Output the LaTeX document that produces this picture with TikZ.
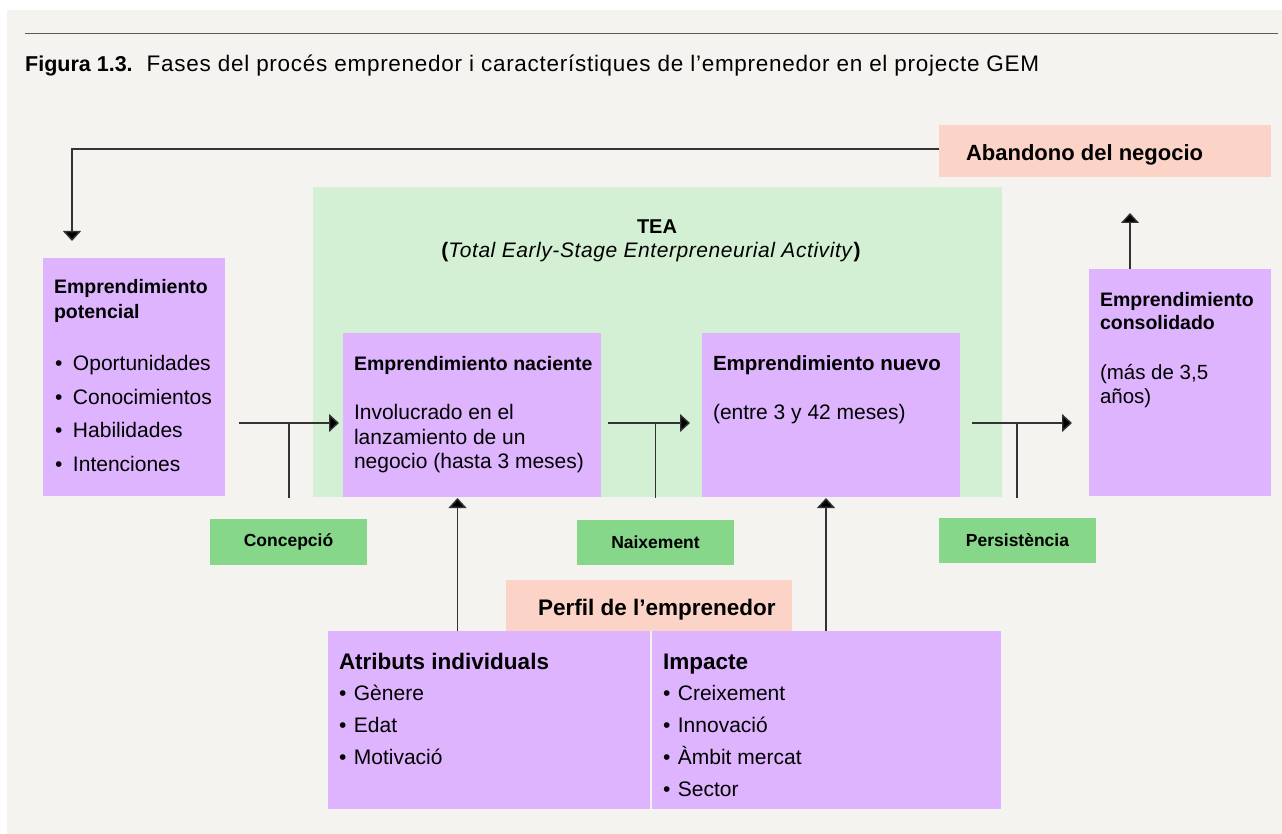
\documentclass[tikz,border=0pt]{standalone}
\usepackage{fontspec}
\setmainfont{Liberation Sans}
\usetikzlibrary{arrows.meta}
\definecolor{bgc}{HTML}{F5F3EF}
\definecolor{purp}{HTML}{DDB4FD}
\definecolor{teag}{HTML}{D3F0D4}
\definecolor{labg}{HTML}{86D78A}
\definecolor{salm}{HTML}{FBD3C7}
\definecolor{linec}{HTML}{333333}
\newcommand\fsz[1]{\fontsize{#1pt}{#1pt}\selectfont}
\newcommand\bul{\makebox[7.4pt][l]{•}\hspace{7.5pt}}
\begin{document}
\begin{tikzpicture}[x=1pt,y=-1pt,
  box/.style={draw=none, inner sep=0pt, outer sep=0pt, anchor=north west},
  lab/.style={box, fill=labg, minimum width=157pt, font=\fsz{17.5}\bfseries},
  txt/.style={anchor=base west, inner sep=0pt, outer sep=0pt, font=\fsz{21}},
  hd/.style={anchor=base west, inner sep=0pt, outer sep=0pt, font=\fsz{19.5}\bfseries},
  bhd/.style={anchor=base west, inner sep=0pt, outer sep=0pt, font=\fsz{22.5}\bfseries},
  conn/.style={draw=linec, line width=1.4pt},
  arr/.style={conn, -{Triangle[length=10pt,width=18pt,fill=black]}},
]
\useasboundingbox (0,0) rectangle (1282,834);
\fill[white] (0,0) rectangle (1282,834);
\fill[bgc] (7,10) rectangle (1282,834);
\draw[draw=black!65, line width=1.5pt] (25,33.5) -- (1278,33.5);
\node[anchor=base west, inner sep=0pt, font=\fsz{21.5}] (title) at (25,72)
  {\textbf{Figura 1.3.}\hspace{14pt}{\fsz{22.5}\addfontfeature{LetterSpace=3.2}Fases del procés emprenedor i característiques de l’emprenedor en el projecte GEM}};

% boxes
\node[box, fill=salm, minimum width=332pt, minimum height=52pt] (aband) at (939,125) {};
\node[box, fill=teag, minimum width=689pt, minimum height=310pt] (tea) at (313,187) {};
\node[box, fill=purp, minimum width=182pt, minimum height=238pt] (pot) at (43,258) {};
\node[box, fill=purp, minimum width=258pt, minimum height=164pt] (nac) at (343,333) {};
\node[box, fill=purp, minimum width=258pt, minimum height=164pt] (nue) at (702,333) {};
\node[box, fill=purp, minimum width=182pt, minimum height=227pt] (con) at (1089,269) {};
\node[lab, minimum height=46pt] (conc) at (210,519) {Concepció};
\node[lab, minimum height=45pt] (naix) at (577,520) {\raisebox{-2pt}{Naixement}};
\node[lab, minimum height=45pt] (pers) at (939,518) {Persistència};
\node[box, fill=salm, minimum width=286pt, minimum height=51pt] (perf) at (506,580) {};
\node[box, fill=purp, minimum width=322pt, minimum height=178pt] (atr) at (328,631) {};
\node[box, fill=purp, minimum width=349pt, minimum height=178pt] (imp) at (652,631) {};

% texts
\node[bhd, font=\fsz{22}\bfseries] (abandt) at (966,161) {Abandono del negocio};
\node[anchor=base, inner sep=0pt, font=\fsz{20}\bfseries] (teat) at (657,234) {TEA};
\node[anchor=base, inner sep=0pt, font=\fsz{21}] (teat2) at (651,258)
  {\textbf{(}{\addfontfeature{LetterSpace=2.7}\textit{Total Early-Stage Enterpreneurial Activity}}\textbf{)}};

\node[hd] (pot1) at (54,294) {Emprendimiento};
\node[hd] (pot2) at (54,318) {potencial};
\node[txt] (potb1) at (55,370) {\makebox[18pt][l]{•}Oportunidades};
\node[txt] (potb2) at (55,404) {\makebox[18pt][l]{•}Conocimientos};
\node[txt] (potb3) at (55,437) {\makebox[18pt][l]{•}Habilidades};
\node[txt] (potb4) at (55,471) {\makebox[18pt][l]{•}Intenciones};

\node[hd] (nac1) at (354,370) {Emprendimiento naciente};
\node[txt] (nac2) at (354,419) {Involucrado en el};
\node[txt] (nac3) at (354,444) {lanzamiento de un};
\node[txt] (nac4) at (354,468) {negocio (hasta 3 meses)};

\node[hd, font=\fsz{20.5}\bfseries] (nue1) at (713,370) {Emprendimiento nuevo};
\node[txt] (nue2) at (713,419) {(entre 3 y 42 meses)};

\node[hd] (con1) at (1100,306) {Emprendimiento};
\node[hd] (con2) at (1100,330) {consolidado};
\node[txt, font=\fsz{20.5}] (con3) at (1100,379) {(más de 3,5};
\node[txt, font=\fsz{20.5}] (con4) at (1100,403) {años)};

\node[bhd] (perft) at (538,615) {Perfil de l’emprenedor};

\node[bhd] (atr1) at (339,669) {Atributs individuals};
\node[txt] (atr2) at (339,700) {\bul Gènere};
\node[txt] (atr3) at (339,732) {\bul Edat};
\node[txt] (atr4) at (339,764) {\bul Motivació};

\node[bhd] (imp1) at (663,669) {Impacte};
\node[txt] (imp2) at (663,700) {\bul Creixement};
\node[txt] (imp3) at (663,732) {\bul Innovació};
\node[txt] (imp4) at (663,764) {\bul Àmbit mercat};
\node[txt] (imp5) at (663,796) {\bul Sector};

% connectors
\coordinate (loopend) at (72,241);
\draw[arr] ([yshift=2pt]aband.west) -| (loopend);
\coordinate (conup) at (1130,213);
\draw[arr] (con.north -| conup) -- (conup);

\coordinate (h1s) at (239,423);
\coordinate (t1) at (289,423);
\coordinate (t1b) at (289,498);
\draw[arr, shorten >=4pt] (h1s) -- (h1s -| nac.west);
\draw[conn] (t1) -- (t1b);

\coordinate (h2s) at (608,423);
\coordinate (t2) at (655.5,423);
\coordinate (t2b) at (655.5,498);
\draw[arr, shorten >=12pt] (h2s) -- (h2s -| nue.west);
\draw[conn] (t2) -- (t2b);

\coordinate (h3s) at (972,423);
\coordinate (t3) at (1017,423);
\coordinate (t3b) at (1017,498);
\draw[arr, shorten >=17pt] (h3s) -- (h3s -| con.west);
\draw[conn] (t3) -- (t3b);

\coordinate (u1) at (457.5,498);
\coordinate (u2) at (826,498);
\draw[arr] (u1 |- atr.north) -- (u1);
\draw[arr] (u2 |- imp.north) -- (u2);
\end{tikzpicture}
\end{document}
